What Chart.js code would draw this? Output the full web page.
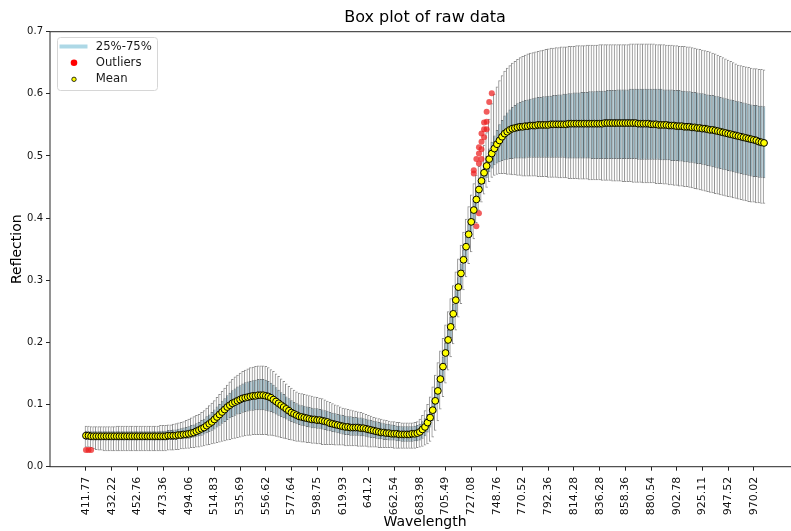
<!DOCTYPE html>
<html>
<head>
<meta charset="utf-8">
<script src="https://cdn.jsdelivr.net/npm/chart.js@4/dist/chart.umd.min.js"></script>
<style>
  html, body { margin: 0; padding: 0; background: #fff; overflow: hidden; }
  #wrap { width: 810px; height: 531px; }
</style>
</head>
<body>
<div id="wrap"><canvas id="c" width="810" height="531"></canvas></div>
<script>
// Wavelength labels shown on the x axis, one every TICK_STEP bands
const TICK_STEP = 10;
const tickLabels = ['411.77','432.22','452.76','473.36','494.06','514.83','535.69','556.62','577.64',
  '598.75','619.93','641.2','662.54','683.98','705.49','727.08','748.76','770.52','792.36','814.28',
  '836.28','858.36','880.54','902.78','925.11','947.52','970.02'];

// Mean reflection per band
const meanVals = [
  .050,.050,.049,.049,.049,.049,.049,.049,.049,.049,
  .049,.049,.049,.049,.049,.049,.049,.049,.049,.049,
  .049,.049,.049,.049,.049,.049,.049,.049,.049,.049,
  .049,.049,.050,.050,.050,.050,.051,.051,.052,.052,
  .053,.054,.055,.057,.059,.061,.063,.066,.069,.072,
  .076,.080,.084,.088,.092,.096,.099,.102,.104,.106,
  .108,.110,.111,.112,.113,.114,.114,.115,.115,.115,
  .114,.113,.111,.108,.105,.102,.099,.096,.093,.090,
  .087,.085,.083,.081,.080,.079,.078,.077,.076,.076,
  .075,.075,.074,.073,.072,.070,.069,.068,.067,.066,
  .065,.064,.064,.063,.063,.063,.063,.062,.062,.061,
  .060,.059,.058,.057,.056,.055,.055,.054,.054,.053,
  .053,.053,.052,.052,.052,.052,.052,.053,.053,.054,
  .056,.060,.064,.071,.079,.091,.106,.122,.141,.161,
  .183,.204,.225,.246,.268,.289,.311,.333,.354,.374,
  .394,.413,.430,.446,.460,.473,.484,.495,.504,.512,
  .519,.525,.531,.536,.539,.542,.544,.545,.546,.547,
  .547,.548,.548,.549,.549,.549,.550,.550,.550,.550,
  .550,.551,.551,.551,.551,.551,.551,.551,.552,.552,
  .552,.552,.552,.552,.552,.552,.552,.552,.552,.552,
  .552,.552,.553,.553,.553,.553,.553,.553,.553,.553,
  .553,.553,.553,.553,.553,.552,.552,.552,.552,.552,
  .551,.551,.551,.550,.550,.550,.550,.549,.549,.549,
  .548,.548,.548,.547,.547,.547,.546,.546,.545,.545,
  .544,.544,.543,.542,.542,.541,.540,.539,.538,.537,
  .536,.535,.534,.533,.532,.531,.530,.529,.528,.527,
  .526,.525,.523,.522,.521
];

// Upper quartile (75%) per band
const q3Vals = [
  .058,.057,.057,.057,.057,.057,.057,.057,.057,.057,
  .057,.057,.057,.057,.057,.057,.057,.057,.057,.057,
  .057,.057,.057,.057,.057,.057,.057,.057,.057,.058,
  .058,.058,.059,.059,.060,.060,.061,.062,.063,.064,
  .065,.067,.068,.070,.072,.075,.077,.081,.084,.088,
  .092,.097,.101,.106,.110,.115,.119,.123,.126,.129,
  .131,.134,.136,.137,.138,.139,.140,.141,.141,.141,
  .140,.138,.135,.132,.128,.124,.120,.117,.113,.110,
  .107,.104,.102,.100,.099,.098,.097,.096,.095,.094,
  .094,.093,.092,.091,.090,.088,.087,.086,.085,.084,
  .083,.082,.081,.081,.080,.080,.079,.079,.078,.077,
  .076,.075,.074,.073,.072,.071,.070,.069,.069,.068,
  .067,.066,.066,.065,.065,.065,.065,.065,.066,.067,
  .069,.073,.078,.085,.094,.106,.121,.138,.157,.177,
  .199,.220,.241,.262,.284,.305,.327,.349,.370,.390,
  .410,.428,.445,.461,.475,.488,.500,.512,.523,.533,
  .542,.551,.558,.565,.570,.575,.579,.582,.585,.587,
  .589,.590,.591,.592,.593,.594,.595,.595,.596,.596,
  .597,.597,.598,.598,.599,.599,.600,.600,.601,.601,
  .602,.602,.602,.603,.603,.603,.604,.604,.604,.605,
  .605,.605,.605,.606,.606,.606,.606,.607,.607,.607,
  .607,.607,.608,.608,.608,.608,.608,.608,.608,.608,
  .608,.608,.608,.608,.608,.607,.607,.607,.607,.606,
  .606,.606,.605,.605,.604,.604,.603,.603,.602,.601,
  .601,.600,.599,.598,.598,.597,.596,.595,.594,.593,
  .592,.591,.590,.589,.588,.587,.586,.585,.584,.583,
  .582,.582,.581,.581,.580
];

// Lower quartile (25%) per band
const q1Vals = [
  .043,.043,.042,.042,.042,.042,.042,.042,.042,.042,
  .042,.042,.042,.042,.042,.042,.042,.042,.042,.042,
  .042,.042,.042,.042,.042,.042,.042,.042,.042,.042,
  .042,.042,.043,.043,.043,.043,.044,.044,.044,.045,
  .045,.046,.047,.048,.049,.050,.052,.054,.056,.058,
  .060,.063,.066,.069,.072,.075,.078,.080,.082,.084,
  .085,.087,.088,.089,.090,.090,.091,.091,.091,.091,
  .090,.089,.088,.086,.084,.082,.080,.078,.076,.074,
  .072,.070,.069,.067,.066,.065,.064,.063,.062,.062,
  .061,.061,.060,.059,.058,.057,.056,.055,.054,.053,
  .052,.051,.051,.050,.050,.050,.050,.049,.049,.048,
  .047,.046,.046,.045,.044,.044,.043,.043,.042,.042,
  .042,.041,.041,.040,.040,.040,.040,.040,.041,.041,
  .042,.045,.049,.055,.063,.074,.088,.105,.124,.144,
  .165,.186,.207,.228,.250,.271,.293,.315,.337,.357,
  .377,.397,.414,.430,.443,.455,.465,.474,.480,.485,
  .488,.490,.492,.493,.494,.495,.495,.496,.496,.496,
  .496,.496,.497,.497,.497,.497,.497,.497,.497,.497,
  .497,.497,.497,.497,.497,.497,.497,.496,.496,.496,
  .496,.496,.496,.496,.496,.496,.496,.495,.495,.495,
  .495,.495,.495,.495,.495,.495,.495,.495,.495,.495,
  .495,.495,.495,.495,.495,.494,.494,.494,.494,.494,
  .494,.494,.494,.494,.493,.493,.493,.493,.492,.492,
  .492,.491,.491,.490,.490,.489,.489,.488,.487,.487,
  .486,.485,.484,.483,.482,.481,.480,.479,.478,.477,
  .476,.475,.474,.473,.472,.471,.470,.469,.468,.467,
  .466,.466,.465,.465,.464
];

// Upper whisker end per band
const whiskerHigh = [
  .066,.066,.065,.065,.065,.065,.065,.065,.065,.065,
  .065,.065,.066,.066,.066,.066,.066,.066,.066,.066,
  .066,.066,.066,.066,.066,.066,.066,.066,.066,.067,
  .067,.067,.068,.068,.069,.070,.071,.072,.073,.075,
  .077,.079,.081,.083,.085,.088,.091,.095,.099,.103,
  .107,.112,.117,.122,.127,.132,.137,.141,.145,.148,
  .151,.154,.156,.158,.160,.161,.162,.163,.163,.163,
  .162,.160,.157,.154,.150,.146,.142,.138,.134,.130,
  .127,.124,.121,.119,.118,.117,.116,.115,.114,.113,
  .112,.111,.110,.108,.106,.104,.102,.100,.099,.097,
  .095,.094,.093,.092,.091,.090,.089,.088,.087,.085,
  .083,.082,.080,.079,.078,.077,.076,.075,.074,.073,
  .073,.072,.072,.071,.071,.071,.071,.071,.072,.073,
  .077,.083,.091,.101,.113,.129,.148,.168,.187,.207,
  .229,.250,.271,.292,.314,.335,.357,.378,.399,.419,
  .438,.456,.470,.484,.490,.518,.538,.560,.585,.600,
  .612,.622,.630,.637,.642,.646,.650,.653,.656,.659,
  .661,.663,.665,.666,.667,.668,.669,.670,.671,.672,
  .673,.674,.674,.675,.675,.676,.676,.676,.677,.677,
  .677,.678,.678,.678,.678,.679,.679,.679,.679,.679,
  .680,.680,.680,.680,.680,.680,.680,.680,.680,.680,
  .680,.680,.681,.681,.681,.681,.681,.681,.681,.681,
  .681,.681,.680,.680,.680,.680,.679,.679,.679,.678,
  .678,.677,.677,.677,.676,.676,.675,.674,.673,.672,
  .671,.670,.669,.668,.666,.665,.663,.661,.659,.657,
  .655,.653,.651,.649,.647,.646,.645,.644,.643,.642,
  .641,.641,.640,.640,.639
];

// Lower whisker end per band
const whiskerLow = [
  .031,.031,.030,.028,.027,.026,.026,.025,.025,.025,
  .025,.025,.025,.025,.025,.025,.025,.025,.025,.025,
  .025,.025,.025,.025,.025,.025,.025,.025,.025,.025,
  .025,.025,.026,.026,.026,.027,.027,.028,.028,.029,
  .029,.030,.030,.031,.031,.032,.033,.034,.035,.036,
  .037,.038,.039,.040,.041,.042,.043,.044,.045,.046,
  .047,.048,.049,.050,.050,.051,.051,.051,.051,.051,
  .051,.050,.050,.049,.048,.047,.046,.045,.044,.043,
  .042,.041,.040,.040,.039,.039,.038,.038,.037,.037,
  .036,.036,.035,.035,.035,.035,.035,.034,.034,.034,
  .034,.033,.033,.033,.033,.033,.032,.032,.032,.032,
  .031,.031,.031,.031,.030,.030,.030,.030,.030,.030,
  .029,.029,.029,.029,.029,.029,.029,.029,.029,.030,
  .031,.032,.034,.036,.040,.047,.058,.073,.092,.112,
  .134,.155,.176,.197,.219,.240,.262,.284,.305,.326,
  .345,.366,.392,.412,.425,.438,.449,.458,.465,.468,
  .470,.471,.471,.471,.470,.470,.469,.469,.468,.468,
  .467,.467,.467,.467,.467,.467,.466,.466,.466,.466,
  .465,.465,.465,.465,.464,.464,.464,.464,.463,.463,
  .463,.463,.462,.462,.462,.462,.461,.461,.461,.461,
  .461,.460,.460,.460,.460,.459,.459,.459,.459,.458,
  .458,.458,.458,.457,.457,.457,.457,.456,.456,.456,
  .456,.456,.455,.455,.455,.454,.454,.453,.453,.452,
  .452,.451,.451,.450,.450,.449,.448,.447,.446,.445,
  .444,.443,.442,.441,.440,.439,.438,.437,.436,.435,
  .434,.433,.432,.431,.430,.429,.428,.427,.426,.425,
  .425,.424,.424,.423,.423
];

// Outliers: band index and reflection value
const outlierBand = [0, 1, 2, 151, 151, 152, 152, 153, 153, 153, 153,
  154, 154, 154, 154, 155, 155, 155, 156, 156, 156, 157, 158];
const outlierVal = [0.027, 0.027, 0.027, 0.477, 0.472, 0.495, 0.387, 0.514, 0.504, 0.488, 0.408,
  0.536, 0.523, 0.511, 0.495, 0.554, 0.543, 0.530, 0.571, 0.555, 0.543, 0.587, 0.601];

const FONT = "'DejaVu Sans', 'Liberation Sans', sans-serif";
const bandCount = meanVals.length;
const bands = meanVals.map((_, i) => i);

// 5% empty margin on each side of the band range
const xMargin = 0.05 * (bandCount - 1) + 0.8;

const framePlugin = {
  id: 'axesFrame',
  afterDraw(chart) {
    const { ctx, chartArea: a } = chart;
    ctx.save();
    ctx.strokeStyle = '#262626';
    ctx.lineWidth = 1;
    ctx.strokeRect(a.left, a.top, a.right - a.left, a.bottom - a.top);
    ctx.restore();
  }
};

const legendPlugin = {
  id: 'boxLegend',
  afterDraw(chart) {
    const { ctx } = chart;
    const x0 = 57.5, y0 = 37.5, w = 100, h = 53, r = 3;
    ctx.save();
    ctx.beginPath();
    ctx.roundRect(x0, y0, w, h, r);
    ctx.fillStyle = 'rgba(255,255,255,0.85)';
    ctx.fill();
    ctx.strokeStyle = '#d6d6d6';
    ctx.lineWidth = 1;
    ctx.stroke();

    const rows = [46.5, 62.8, 79.3];
    // 25%-75% swatch
    ctx.beginPath();
    ctx.moveTo(59.5, rows[0]);
    ctx.lineTo(87.5, rows[0]);
    ctx.strokeStyle = '#add8e6';
    ctx.lineWidth = 4;
    ctx.stroke();
    // outlier swatch
    ctx.beginPath();
    ctx.arc(74, rows[1], 3.3, 0, Math.PI * 2);
    ctx.fillStyle = '#ff0000';
    ctx.fill();
    // mean swatch
    ctx.beginPath();
    ctx.arc(74, rows[2], 2.2, 0, Math.PI * 2);
    ctx.fillStyle = '#ffff00';
    ctx.fill();
    ctx.strokeStyle = '#000';
    ctx.lineWidth = 0.8;
    ctx.stroke();

    ctx.fillStyle = '#1a1a1a';
    ctx.font = '11.7px ' + FONT;
    ctx.textBaseline = 'middle';
    ctx.textAlign = 'left';
    ctx.fillText('25%-75%', 95.7, rows[0]);
    ctx.fillText('Outliers', 95.7, rows[1]);
    ctx.fillText('Mean', 95.7, rows[2]);
    ctx.restore();
  }
};

new Chart(document.getElementById('c'), {
  type: 'bar',
  data: {
    datasets: [
      {
        label: 'whiskers',
        data: bands.map(i => ({ x: i, y: [whiskerLow[i], whiskerHigh[i]] })),
        backgroundColor: 'rgba(0,0,0,0)',
        borderColor: 'rgba(95,95,95,0.7)',
        borderWidth: { left: 1, right: 0, top: 1, bottom: 1 },
        borderSkipped: false,
        inflateAmount: 0,
        barPercentage: 1,
        categoryPercentage: 1,
        grouped: false,
        order: 4
      },
      {
        label: '25%-75%',
        data: bands.map(i => ({ x: i, y: [q1Vals[i], q3Vals[i]] })),
        backgroundColor: 'rgba(150,180,192,0.95)',
        borderColor: 'rgba(85,95,100,0.8)',
        borderWidth: { left: 1, right: 0, top: 1, bottom: 1 },
        borderSkipped: false,
        inflateAmount: 0,
        barPercentage: 1,
        categoryPercentage: 1,
        grouped: false,
        order: 3
      },
      {
        type: 'line',
        label: 'Outliers',
        data: outlierBand.map((b, k) => ({ x: b, y: outlierVal[k] })),
        showLine: false,
        pointRadius: 3,
        pointBorderWidth: 0,
        pointBackgroundColor: 'rgba(235,30,30,0.72)',
        pointBorderColor: 'rgba(235,30,30,0.72)',
        order: 2
      },
      {
        type: 'line',
        label: 'Mean',
        data: bands.map(i => ({ x: i, y: meanVals[i] })),
        showLine: false,
        pointRadius: 3.4,
        pointBorderWidth: 1,
        pointBackgroundColor: '#ffff00',
        pointBorderColor: '#000000',
        order: 1
      }
    ]
  },
  options: {
    responsive: false,
    devicePixelRatio: 1,
    animation: false,
    events: [],
    layout: { padding: { left: 0, right: 10, top: 0, bottom: 0 } },
    plugins: {
      legend: { display: false },
      tooltip: { enabled: false },
      title: {
        display: true,
        text: 'Box plot of raw data',
        color: '#000',
        font: { family: FONT, size: 16, weight: 'normal' },
        padding: { top: 8, bottom: 4.5 },
        fullSize: false
      }
    },
    scales: {
      x: {
        type: 'linear',
        offset: false,
        min: -xMargin,
        max: bandCount - 1 + xMargin,
        afterBuildTicks(scale) {
          scale.ticks = tickLabels.map((_, k) => ({ value: k * TICK_STEP }));
        },
        afterFit(scale) { scale.height = 64.3; },
        ticks: {
          autoSkip: false,
          minRotation: 90,
          maxRotation: 90,
          padding: 6,
          color: '#111',
          font: { family: FONT, size: 11 },
          callback: (v) => tickLabels[Math.round(v / TICK_STEP)]
        },
        grid: { display: true, offset: false, drawOnChartArea: false, drawTicks: true, tickLength: 4, tickColor: '#262626', tickWidth: 1 },
        border: { display: false },
        title: {
          display: true,
          text: 'Wavelength',
          color: '#000',
          font: { family: FONT, size: 14 },
          padding: { top: 0, bottom: 0 }
        }
      },
      y: {
        type: 'linear',
        min: 0,
        max: 0.7,
        afterFit(scale) { scale.width = 50; },
        ticks: {
          stepSize: 0.1,
          padding: 3,
          color: '#111',
          font: { family: FONT, size: 10 },
          callback: (v) => v.toFixed(1)
        },
        grid: { display: true, drawOnChartArea: false, drawTicks: true, tickLength: 4, tickColor: '#262626', tickWidth: 1 },
        border: { display: false },
        title: {
          display: true,
          text: 'Reflection',
          color: '#000',
          font: { family: FONT, size: 14 },
          padding: { top: 8.5, bottom: 0 }
        }
      }
    }
  },
  plugins: [framePlugin, legendPlugin]
});
</script>
</body>
</html>
